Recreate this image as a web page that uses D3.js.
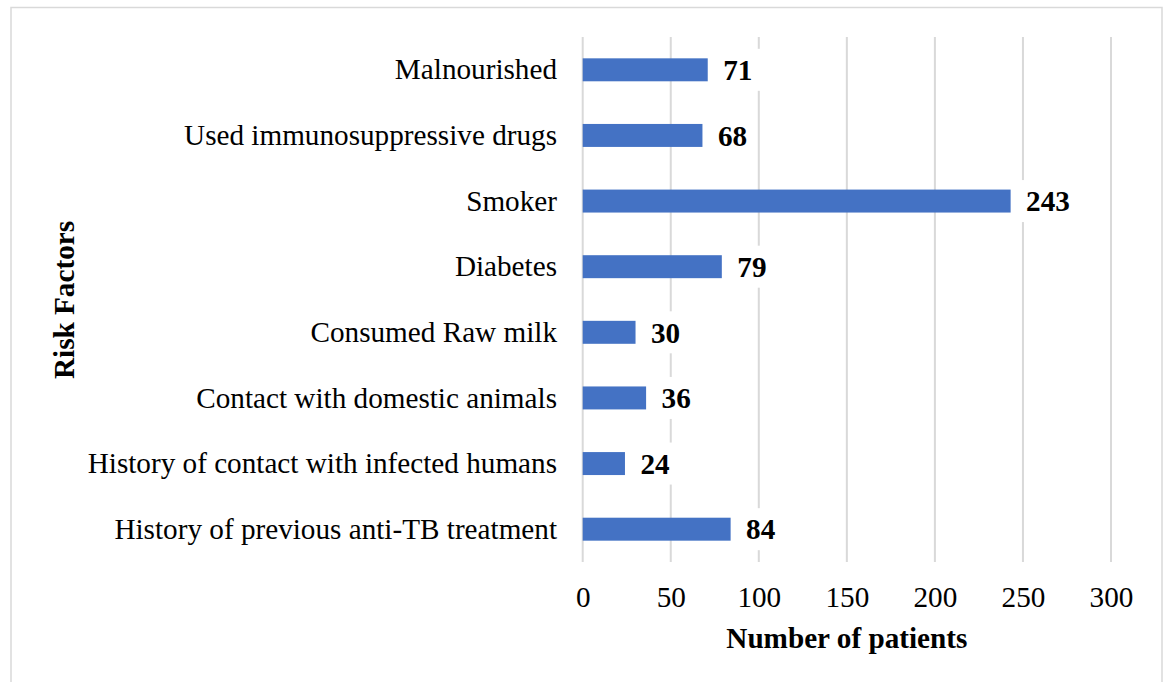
<!DOCTYPE html>
<html><head><meta charset="utf-8">
<script src="https://cdn.jsdelivr.net/npm/d3@7"></script>
<style>html,body{margin:0;padding:0;background:#fff;}svg{display:block;}</style>
</head><body>
<svg id="chart" width="1164" height="682"></svg>
<script>
const categories = ["Malnourished","Used immunosuppressive drugs","Smoker","Diabetes","Consumed Raw milk","Contact with domestic animals","History of contact with infected humans","History of previous anti-TB treatment"];
const values = [71,68,243,79,30,36,24,84];
const xTicks = [0,50,100,150,200,250,300];
const xTitle = "Number of patients";
const yTitle = "Risk Factors";

const svg = d3.select("#chart");
const font = "'Liberation Serif','Times New Roman',serif";
const fs = 29.2;
const m = {left:582.7, right:1111, top:37, bottom:562};

svg.append("rect").attr("x",11).attr("y",7.5).attr("width",1151).attr("height",690)
  .attr("fill","#fff").attr("stroke","#d9d9d9").attr("stroke-width",1.5);

const x = d3.scaleLinear().domain([0,300]).range([m.left,m.right]);
const y = d3.scaleBand().domain(categories).range([m.top,m.bottom]).paddingInner(0.65).paddingOuter(0.325);

// gridlines
svg.append("g").selectAll("line").data(xTicks).join("line")
  .attr("x1",d=>x(d)).attr("x2",d=>x(d)).attr("y1",m.top).attr("y2",m.bottom)
  .attr("stroke","#d9d9d9").attr("stroke-width",2);

// x axis tick labels
const xAxis = d3.axisBottom(x).tickValues(xTicks).tickSize(0).tickPadding(0);
const gx = svg.append("g").attr("transform",`translate(0,${m.bottom})`).call(xAxis);
gx.select(".domain").remove();
gx.selectAll("text").attr("font-family",font).attr("font-size",fs).attr("fill","#000")
  .attr("y",45).attr("dy",0);

// y axis labels
const yAxis = d3.axisLeft(y).tickSize(0).tickPadding(0);
const gy = svg.append("g").attr("transform",`translate(557,0)`).call(yAxis);
gy.select(".domain").remove();
gy.selectAll("text").attr("font-family",font).attr("font-size",fs).attr("fill","#000")
  .attr("x",0).attr("dy","0.33em");

// bars
svg.append("g").selectAll("rect").data(values).join("rect")
  .attr("x",x(0)).attr("y",(d,i)=>y(categories[i]))
  .attr("width",d=>x(d)-x(0)).attr("height",y.bandwidth())
  .attr("fill","#4472C4");

// value labels with white backgrounds
const lg = svg.append("g").selectAll("g").data(values).join("g")
  .attr("transform",(d,i)=>`translate(${x(d)+15.5},${y(categories[i])+y.bandwidth()/2})`);
const bg = lg.append("rect").attr("fill","#fff");
const lt = lg.append("text").attr("dy","0.35em").attr("font-family",font).attr("font-weight","bold")
  .attr("font-size",fs).attr("fill","#000").text(d=>d);
lt.each(function(){
  const w = this.getComputedTextLength();
  d3.select(this.previousSibling).attr("x",-8).attr("y",-21).attr("width",w+17).attr("height",42);
});

// axis titles
svg.append("text").attr("x",(m.left+m.right)/2).attr("y",648).attr("text-anchor","middle")
  .attr("font-family",font).attr("font-weight","bold").attr("font-size",fs).attr("fill","#000").text(xTitle);
svg.append("text").attr("transform","translate(74,300) rotate(-90)").attr("text-anchor","middle")
  .attr("font-family",font).attr("font-weight","bold").attr("font-size",fs).attr("fill","#000").text(yTitle);
</script>
</body></html>
